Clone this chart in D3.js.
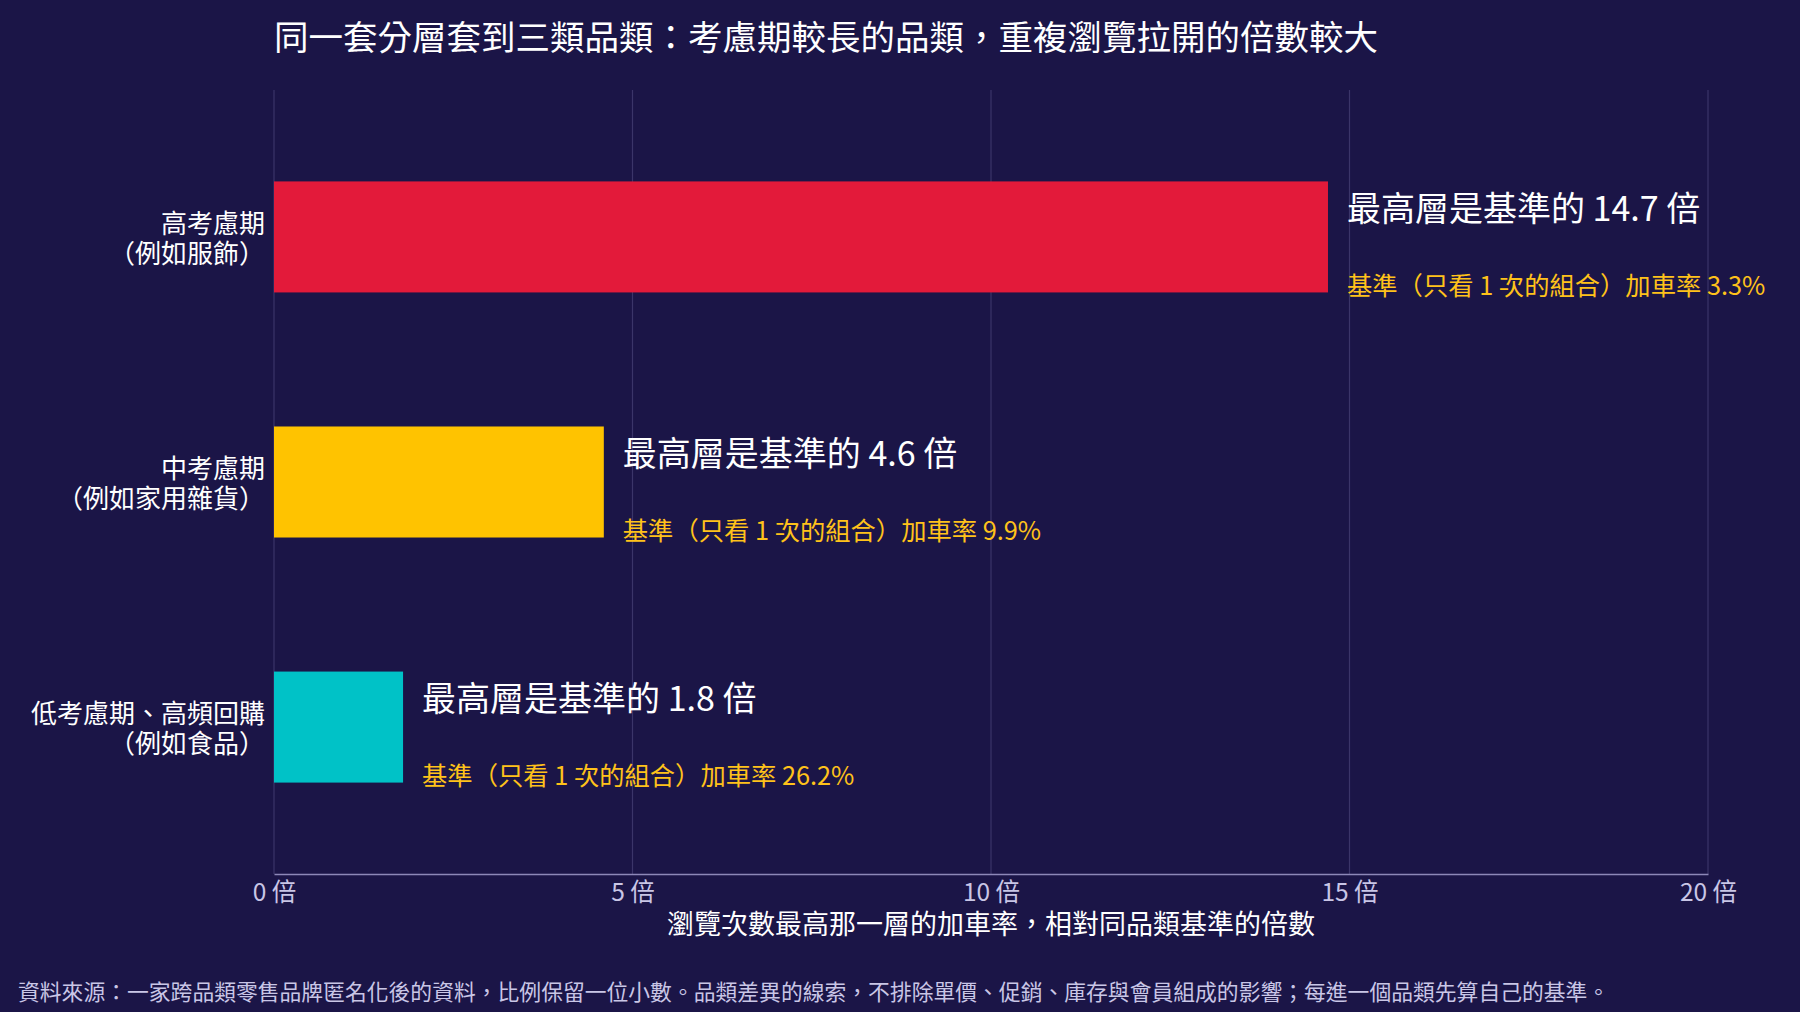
<!DOCTYPE html>
<html>
<head>
<meta charset="utf-8">
<script src="https://cdn.jsdelivr.net/npm/d3@7"></script>
<style>
  html, body { margin: 0; padding: 0; background: #1b1547; }
  text { font-family: "Noto Sans CJK TC", "Noto Sans", sans-serif; }
</style>
</head>
<body>
<svg id="chart" width="1800" height="1012"></svg>
<script>
// Chart data
var categories = ['高考慮期\n（例如服飾）', '中考慮期\n（例如家用雜貨）', '低考慮期、高頻回購\n（例如食品）'];
var multiples = [14.7, 4.6, 1.8];
var baseRates = ['3.3%', '9.9%', '26.2%'];
var barColors = ['#e31a3a', '#ffc300', '#00c2c7'];
var tickValues = [0, 5, 10, 15, 20];

var MARGIN = {top: 90, left: 274, right: 92, bottom: 138};
var W = 1800, H = 1012;

var svg = d3.select('#chart');

var x = d3.scaleLinear().domain([0, 20]).range([MARGIN.left, W - MARGIN.right]);
var y = d3.scaleBand().domain(d3.range(categories.length))
  .range([MARGIN.top, H - MARGIN.bottom]).paddingInner(0.547).paddingOuter(0.373);

// Title
svg.append('text').attr('x', 274).attr('y', 50)
  .attr('fill', '#ffffff').attr('font-size', 34.5).text('同一套分層套到三類品類：考慮期較長的品類，重複瀏覽拉開的倍數較大');

// Gridlines
svg.append('g').selectAll('line').data(tickValues).join('line')
  .attr('x1', function(d) { return x(d); }).attr('x2', function(d) { return x(d); })
  .attr('y1', MARGIN.top).attr('y2', H - MARGIN.bottom)
  .attr('stroke', '#3b3569').attr('stroke-width', 1.2);

// Bars
svg.append('g').selectAll('rect').data(multiples).join('rect')
  .attr('x', x(0)).attr('y', function(d, i) { return y(i); })
  .attr('width', function(d) { return x(d) - x(0); })
  .attr('height', y.bandwidth())
  .attr('fill', function(d, i) { return barColors[i]; });

// Value labels
var labels = svg.append('g').selectAll('g').data(multiples).join('g')
  .attr('transform', function(d, i) {
    return 'translate(' + (x(d) + 19) + ',' + (y(i) + y.bandwidth() / 2) + ')';
  });
labels.append('text').attr('y', -16).attr('fill', '#ffffff').attr('font-size', 34)
  .text(function(d) { return '最高層是基準的 ' + d + ' 倍'; });
labels.append('text').attr('y', 58).attr('fill', '#ffc21a').attr('font-size', 25.3)
  .text(function(d, i) { return '基準（只看 1 次的組合）加車率 ' + baseRates[i]; });

// Category labels
categories.forEach(function(c, i) {
  var lines = c.split('\n');
  var t = svg.append('text').attr('text-anchor', 'end').attr('fill', '#ffffff').attr('font-size', 26)
    .attr('x', 265).attr('y', y(i) + y.bandwidth() / 2 - 4);
  lines.forEach(function(l, j) {
    t.append('tspan').attr('x', 265).attr('dy', j === 0 ? 0 : 30).text(l);
  });
});

// X axis
var axis = svg.append('g').attr('transform', 'translate(0,' + (H - MARGIN.bottom) + ')')
  .call(d3.axisBottom(x).tickValues(tickValues).tickSize(0).tickPadding(10)
    .tickFormat(function(d) { return d + ' 倍'; }));
axis.select('.domain').attr('stroke', '#8d88b8').attr('stroke-width', 1.5);
axis.selectAll('text').attr('fill', '#c9c6e6').attr('font-size', 24.5)
  .style('font-family', '"Noto Sans CJK TC", sans-serif');

svg.append('text').attr('x', x(10)).attr('y', 934).attr('text-anchor', 'middle')
  .attr('fill', '#ffffff').attr('font-size', 27).text('瀏覽次數最高那一層的加車率，相對同品類基準的倍數');

// Footer
svg.append('text').attr('x', 18).attr('y', 1000).attr('fill', '#c9c6e6').attr('font-size', 21.8)
  .text('資料來源：一家跨品類零售品牌匿名化後的資料，比例保留一位小數。品類差異的線索，不排除單價、促銷、庫存與會員組成的影響；每進一個品類先算自己的基準。');
</script>
</body>
</html>
